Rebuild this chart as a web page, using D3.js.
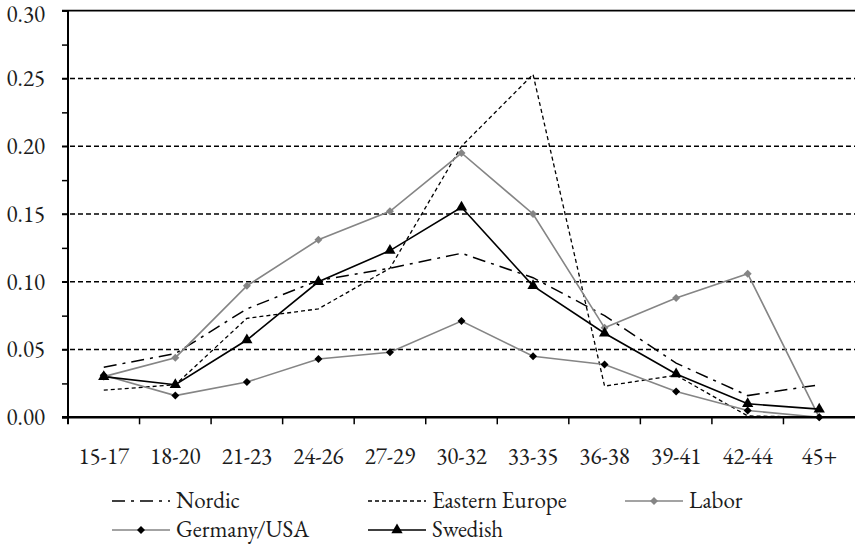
<!DOCTYPE html>
<html><head><meta charset="utf-8">
<script src="https://cdn.jsdelivr.net/npm/d3@7"></script>
<style>html,body{margin:0;padding:0;background:#fff;}svg{display:block;}</style>
</head><body>
<svg id="chart" width="855" height="547"></svg>
<script>
const categories = ["15-17","18-20","21-23","24-26","27-29","30-32","33-35","36-38","39-41","42-44","45+"];
const nordic        = [0.037,0.047,0.080,0.101,0.110,0.121,0.103,0.075,0.040,0.016,0.024];
const easternEurope = [0.020,0.024,0.073,0.080,0.110,0.200,0.253,0.023,0.031,0.001,0.000];
const labor         = [0.030,0.044,0.097,0.131,0.152,0.195,0.150,0.066,0.088,0.106,0.000];
const germanyUSA    = [0.031,0.016,0.026,0.043,0.048,0.071,0.045,0.039,0.019,0.005,0.000];
const swedish       = [0.030,0.024,0.057,0.100,0.123,0.155,0.097,0.062,0.032,0.010,0.006];
const yTickLabels = [0,0.05,0.10,0.15,0.20,0.25,0.30];
const yMinorTicks = [0,0.025,0.05,0.075,0.10,0.125,0.15,0.175,0.20,0.225,0.25,0.275,0.30];

const series = [
  {name:"Nordic", values:nordic, color:"#000", width:1.5, dash:"13,6,3,6", marker:null},
  {name:"Eastern Europe", values:easternEurope, color:"#000", width:1.3, dash:"4,3", marker:null},
  {name:"Labor", values:labor, color:"#858585", width:1.6, dash:null, marker:"diamond", markerColor:"#858585"},
  {name:"Germany/USA", values:germanyUSA, color:"#858585", width:1.6, dash:null, marker:"diamond", markerColor:"#000"},
  {name:"Swedish", values:swedish, color:"#000", width:1.6, dash:null, marker:"triangle", markerColor:"#000"}
];
const FONT = '"EB Garamond"';
const FS = 23;

const svg = d3.select("#chart");
const mLeft = 68, mRight = 855, mTop = 10.7, mBottom = 417.3;
const x = d3.scaleBand().domain(categories).range([mLeft, mRight]);
const y = d3.scaleLinear().domain([0, 0.30]).range([mBottom, mTop]);

function styleText(sel) {
  sel.style("font-family", FONT).style("font-size", FS + "px").style("font-variant-numeric", "lining-nums")
    .attr("fill", "#1c1c1c");
}

// gridlines
svg.append("g").selectAll("line").data(yTickLabels.filter(v => v > 0 && v < 0.3)).join("line")
  .attr("x1", mLeft - 6).attr("x2", mRight).attr("y1", d => y(d)).attr("y2", d => y(d))
  .attr("stroke", "#000").attr("stroke-width", 1.4).attr("stroke-dasharray", "5,3");
svg.append("line").attr("x1", mLeft - 6).attr("x2", mRight).attr("y1", y(0.30)).attr("y2", y(0.30))
  .attr("stroke", "#000").attr("stroke-width", 1.8);

// series lines
const line = d3.line().x((d, i) => x(categories[i]) + x.bandwidth() / 2).y(d => y(d));
series.forEach(s => {
  svg.append("path").datum(s.values).attr("d", line).attr("fill", "none")
    .attr("stroke", s.color).attr("stroke-width", s.width)
    .attr("stroke-dasharray", s.dash).attr("stroke-linejoin", "miter");
});
function markerPath(type) {
  if (type === "diamond") return d3.symbol().type(d3.symbolSquare).size(32)();
  return d3.symbol().type(d3.symbolTriangle).size(55)();
}
series.filter(s => s.marker).forEach(s => {
  svg.append("g").selectAll("path").data(s.values).join("path")
    .attr("d", markerPath(s.marker))
    .attr("transform", (d, i) => `translate(${x(categories[i]) + x.bandwidth() / 2},${y(d)})` + (s.marker === "diamond" ? " rotate(45)" : ""))
    .attr("fill", s.markerColor);
});

// y axis
const yAxis = svg.append("g").attr("transform", `translate(${mLeft},0)`)
  .call(d3.axisLeft(y).tickValues(yMinorTicks).tickSize(6).tickPadding(17)
    .tickFormat(d => yTickLabels.some(v => Math.abs(v - d) < 1e-9) ? d3.format(".2f")(d) : ""));
yAxis.select(".domain").remove();
yAxis.selectAll(".tick line").attr("stroke", "#000").attr("stroke-width", 1.5);
yAxis.selectAll("text").call(styleText)
  .attr("dy", d => Math.abs(d - 0.30) < 1e-9 ? "0.46em" : "0.32em");
svg.append("line").attr("x1", mLeft).attr("x2", mLeft).attr("y1", mTop).attr("y2", mBottom + 7)
  .attr("stroke", "#000").attr("stroke-width", 2);

// x axis
svg.append("line").attr("x1", mLeft - 6).attr("x2", mRight).attr("y1", mBottom).attr("y2", mBottom)
  .attr("stroke", "#000").attr("stroke-width", 2.4);
svg.append("g").selectAll("line").data(categories.slice(1)).join("line")
  .attr("x1", d => x(d)).attr("x2", d => x(d)).attr("y1", mBottom).attr("y2", mBottom + 7)
  .attr("stroke", "#000").attr("stroke-width", 1.5);
const xAxis = svg.append("g").attr("transform", `translate(0,${mBottom})`)
  .call(d3.axisBottom(x).tickSize(0).tickPadding(30));
xAxis.select(".domain").remove();
xAxis.selectAll("text").call(styleText);

// legend
const legendItems = [
  {s: series[0], lx: 112, ly: 501},
  {s: series[1], lx: 368, ly: 501},
  {s: series[2], lx: 625, ly: 501},
  {s: series[3], lx: 112, ly: 530},
  {s: series[4], lx: 368, ly: 530}
];
const lg = svg.append("g");
legendItems.forEach(it => {
  const s = it.s, w = 58;
  lg.append("line").attr("x1", it.lx).attr("x2", it.lx + w).attr("y1", it.ly).attr("y2", it.ly)
    .attr("stroke", s.color).attr("stroke-width", s.width).attr("stroke-dasharray", s.dash);
  if (s.marker) {
    lg.append("path").attr("d", markerPath(s.marker))
      .attr("transform", `translate(${it.lx + w / 2},${it.ly})` + (s.marker === "diamond" ? " rotate(45)" : ""))
      .attr("fill", s.markerColor);
  }
  lg.append("text").attr("x", it.lx + w + 6).attr("y", it.ly + 7).call(styleText).text(s.name);
});
</script>
</body></html>
